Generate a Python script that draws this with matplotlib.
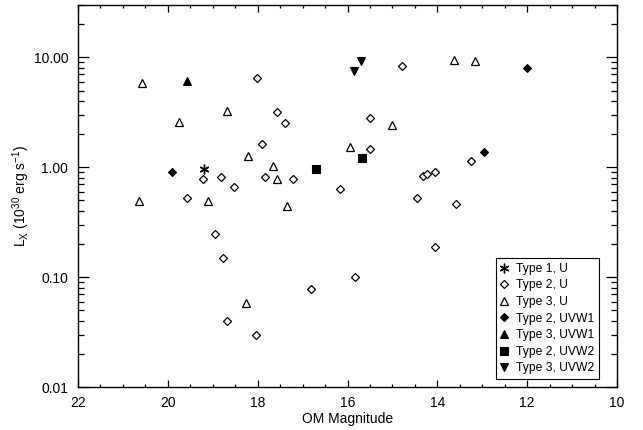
import numpy as np
import matplotlib
matplotlib.use("Agg")
from matplotlib import pyplot as plt
from matplotlib.ticker import FixedLocator, LogLocator, FuncFormatter, NullFormatter

plt.rcParams['font.family'] = ['Liberation Sans', 'DejaVu Sans']

# Type 1, U (asterisk)
t1u_mag = [19.2]
t1u_lx = [0.96]

# Type 2, U (open diamond)
t2u_mag = [19.22, 18.02, 17.57, 17.39, 17.90, 18.82, 17.83, 17.22, 18.52, 16.16,
           14.79, 15.50, 15.50, 13.26, 14.33, 14.22, 14.05, 14.45, 13.58, 14.06,
           15.84, 18.94, 18.78, 16.81, 18.68, 18.04, 19.58]
t2u_lx = [0.79, 6.44, 3.20, 2.54, 1.62, 0.82, 0.81, 0.79, 0.66, 0.635,
          8.4, 2.82, 1.47, 1.15, 0.84, 0.88, 0.91, 0.53, 0.46, 0.19,
          0.10, 0.25, 0.149, 0.079, 0.040, 0.030, 0.53]

# Type 3, U (open triangle)
t3u_mag = [20.58, 19.75, 18.68, 18.21, 17.66, 17.57, 15.95, 13.63, 13.17, 15.02,
           17.35, 18.26, 20.64, 19.10]
t3u_lx = [5.8, 2.6, 3.25, 1.27, 1.03, 0.79, 1.54, 9.45, 9.3, 2.42,
          0.45, 0.059, 0.49, 0.49]

# Type 2, UVW1 (filled diamond)
t2w1_mag = [19.91, 12.96, 12.0]
t2w1_lx = [0.90, 1.37, 8.0]

# Type 3, UVW1 (filled triangle)
t3w1_mag = [19.58]
t3w1_lx = [6.13]

# Type 2, UVW2 (filled square)
t2w2_mag = [16.70, 15.67]
t2w2_lx = [0.96, 1.23]

# Type 3, UVW2 (filled down triangle)
t3w2_mag = [15.70, 15.86]
t3w2_lx = [9.3, 7.5]

fig = plt.figure(figsize=(6.43, 4.30), dpi=100)
ax = fig.add_axes([0.1213, 0.0993, 0.8383, 0.8891])

ax.plot(t1u_mag, t1u_lx, ls='none', marker=(6, 2, 0), ms=7, mec='black', mew=1.0,
        label='Type 1, U')
ax.plot(t2u_mag, t2u_lx, ls='none', marker='D', ms=4.3, mfc='white', mec='black', mew=0.9,
        label='Type 2, U')
ax.plot(t3u_mag, t3u_lx, ls='none', marker='^', ms=6.2, mfc='white', mec='black', mew=0.9,
        label='Type 3, U')
ax.plot(t2w1_mag, t2w1_lx, ls='none', marker='D', ms=3.8, mfc='black', mec='black', mew=0.8,
        label='Type 2, UVW1')
ax.plot(t3w1_mag, t3w1_lx, ls='none', marker='^', ms=6, mfc='black', mec='black', mew=0.8,
        label='Type 3, UVW1')
ax.plot(t2w2_mag, t2w2_lx, ls='none', marker='s', ms=6, mfc='black', mec='black', mew=0.8,
        label='Type 2, UVW2')
ax.plot(t3w2_mag, t3w2_lx, ls='none', marker='v', ms=6, mfc='black', mec='black', mew=0.8,
        label='Type 3, UVW2')

ax.set_yscale('log')
ax.set_xlim(22, 10)
ax.set_ylim(0.01, 30)

ax.xaxis.set_major_locator(FixedLocator([22, 20, 18, 16, 14, 12, 10]))
ax.xaxis.set_minor_locator(FixedLocator(np.arange(10, 22.01, 0.5)))
ax.yaxis.set_major_locator(LogLocator(base=10, numticks=10))
ax.yaxis.set_minor_locator(LogLocator(base=10, subs=np.arange(2, 10), numticks=10))
ax.yaxis.set_major_formatter(FuncFormatter(lambda v, p: '%.2f' % v))
ax.yaxis.set_minor_formatter(NullFormatter())

ax.tick_params(which='both', direction='in', top=True, right=True, labelsize=10,
               width=0.9, colors='black')
ax.tick_params(axis='x', which='major', length=5.3, pad=6.5)
ax.tick_params(axis='x', which='minor', length=2.5)
ax.tick_params(axis='y', which='major', length=7.7, pad=7)
ax.tick_params(axis='y', which='minor', length=4)
for s in ax.spines.values():
    s.set_linewidth(1.0)

ax.set_xlabel('OM Magnitude', fontsize=10, labelpad=1)
ax.set_ylabel(r'L$_\mathregular{X}$ (10$^\mathregular{30}$ erg s$^\mathregular{-1}$)',
              fontsize=10, labelpad=1)

leg = ax.legend(loc='lower right', bbox_to_anchor=(0.9666, 0.021), borderaxespad=0,
                fontsize=8.7, frameon=True, fancybox=False, edgecolor='black',
                framealpha=1, handlelength=0.6, handletextpad=0.65, labelspacing=0.38,
                borderpad=0.4, numpoints=1)
leg.get_frame().set_linewidth(0.8)

fig.savefig('out.png', dpi=100)
